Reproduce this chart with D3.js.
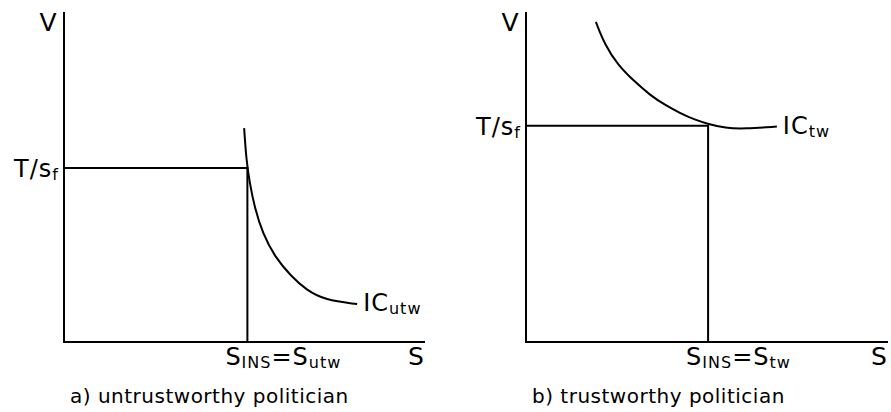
<!DOCTYPE html>
<html>
<head>
<meta charset="utf-8">
<script src="https://cdn.jsdelivr.net/npm/d3@7"></script>
<style>
  body { margin: 0; background: #fff; }
  svg { display: block; }
  text { font-family: "DejaVu Sans", Verdana, sans-serif; fill: #000; }
</style>
</head>
<body>
<div id="chart"></div>
<script>
// indifference curves (S, V in 0..100 units)
var icUtwS = [49.9, 50.5, 51.4, 52.8, 55.1, 58.4, 63.0, 67.1, 72.3, 81.2];
var icUtwV = [64.8, 55.2, 48.5, 40.7, 32.7, 25.8, 19.8, 15.8, 12.7, 11.5];
var icTwS  = [19.3, 21.8, 25.4, 30.1, 34.3, 38.4, 42.5, 46.7, 50.3, 55.0, 60.5, 69.3];
var icTwV  = [97.0, 90.0, 83.9, 78.8, 74.8, 71.8, 69.4, 67.3, 66.1, 64.8, 64.6, 65.3];

// equilibrium points (S_INS, T/s_f)
var sIns = [50.8, 50.3];
var tOverSf = [52.7, 65.5];

var captions = ['a) untrustworthy politician', 'b) trustworthy politician'];
var icSubs = ['utw', 'tw'];

var width = 891, height = 412;

var svg = d3.select('#chart')
    .append('svg')
    .attr('width', width)
    .attr('height', height);

// panel frames (pixel positions of each axis box)
var panels = [
    {x0: 64,  x1: 425, y0: 342, y1: 12, S: icUtwS, V: icUtwV},
    {x0: 526, x1: 888, y0: 342, y1: 12, S: icTwS,  V: icTwV}
];

panels.forEach(function(p, i){
    var x = d3.scaleLinear().domain([0, 100]).range([p.x0, p.x1]);
    var y = d3.scaleLinear().domain([0, 100]).range([p.y0, p.y1]);
    var g = svg.append('g');

    // axes
    g.append('path')
        .attr('d', 'M' + x(0) + ',' + y(100) + 'V' + y(0) + 'H' + x(100))
        .attr('fill', 'none')
        .attr('stroke', '#000')
        .attr('stroke-width', 2);

    // guide lines to the equilibrium
    g.append('path')
        .attr('d', 'M' + x(0) + ',' + y(tOverSf[i]) + 'H' + x(sIns[i]) + 'V' + y(0))
        .attr('fill', 'none')
        .attr('stroke', '#000')
        .attr('stroke-width', 2);

    // indifference curve (smoothed through the read points)
    var pts = p.S.map(function(s, k){ return [s, p.V[k]]; });
    var line = d3.line()
        .x(function(d){ return x(d[0]); })
        .y(function(d){ return y(d[1]); })
        .curve(d3.curveBasis);
    g.append('path')
        .datum(pts)
        .attr('d', line)
        .attr('fill', 'none')
        .attr('stroke', '#000')
        .attr('stroke-width', 2);

    // axis names
    g.append('text')
        .attr('x', x(0) - 16).attr('y', y(100) + 19)
        .attr('text-anchor', 'middle')
        .attr('font-size', 25)
        .text('V');
    g.append('text')
        .attr('x', x(100) - 9).attr('y', y(0) + 23)
        .attr('text-anchor', 'middle')
        .attr('font-size', 25)
        .text('S');

    // T/s_f label
    var t = g.append('text')
        .attr('x', x(0) - 5).attr('y', y(tOverSf[i]) + 9)
        .attr('text-anchor', 'end')
        .attr('font-size', 24)
        .attr('letter-spacing', 1);
    t.append('tspan').text('T/s');
    t.append('tspan').attr('font-size', 16).attr('dy', 3).text('f');

    // S_INS = S_x label
    var s = g.append('text')
        .attr('x', x(sIns[i]) - 22).attr('y', y(0) + 23)
        .attr('font-size', 24)
        .attr('letter-spacing', 1);
    s.append('tspan').text('S');
    s.append('tspan').attr('font-size', 16).attr('dy', 3).text('INS');
    s.append('tspan').attr('dy', -3).text('=S');
    s.append('tspan').attr('font-size', 16).attr('dy', 3).text(icSubs[i]);

    // IC label at curve end
    var last = pts[pts.length - 1];
    var ic = g.append('text')
        .attr('x', x(last[0]) + 6).attr('y', y(last[1]) + 7)
        .attr('font-size', 24)
        .attr('letter-spacing', 1);
    ic.append('tspan').text('IC');
    ic.append('tspan').attr('font-size', 16).attr('dy', 3).text(icSubs[i]);

    // caption
    g.append('text')
        .attr('x', x(0) + 6).attr('y', 403)
        .attr('font-size', 20)
        .attr('letter-spacing', 0.5)
        .text(captions[i]);
});
</script>
</body>
</html>
